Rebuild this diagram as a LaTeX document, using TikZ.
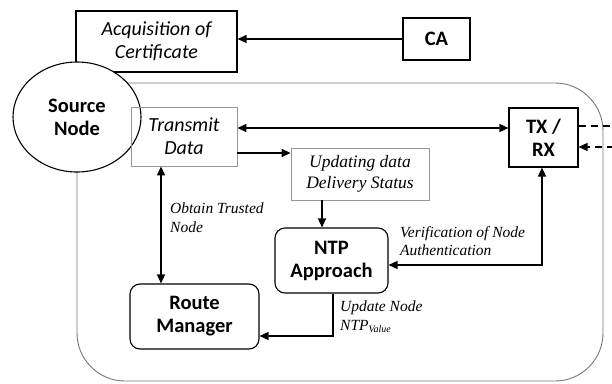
\documentclass[tikz,border=0pt]{standalone}
\usepackage{fontspec}
\setmainfont{Liberation Serif}
\newfontfamily\calibri{Carlito}
\usetikzlibrary{positioning,arrows.meta,shapes.geometric,calc}
\definecolor{framegray}{RGB}{120,120,120}
\definecolor{boxgray}{RGB}{150,150,150}

\begin{document}
\begin{tikzpicture}[
    x=1pt, y=-1pt,
    >={Stealth[length=9pt,width=8pt,inset=0pt]},
    blackbox/.style={rectangle, draw, line width=1.1pt, inner sep=0pt, align=center},
    graybox/.style={rectangle, draw=boxgray, line width=0.9pt, inner sep=0pt, align=center},
    roundbox/.style={blackbox, rounded corners=10pt},
    boldsans/.style={font=\calibri\bfseries\fontsize{20.5}{23}\selectfont},
    itsans/.style={font=\calibri\itshape\fontsize{20}{23}\selectfont},
    itserif/.style={font=\itshape\fontsize{17.5}{21}\selectfont},
    flowlabel/.style={anchor=north west, inner sep=0pt, align=left, font=\itshape\fontsize{15.5}{18.5}\selectfont},
    link/.style={line width=1.4pt},
    farlink/.style={link, dash pattern=on 7pt off 5pt}
]
\useasboundingbox (0,0) rectangle (612,383);

% outer frame
\draw[framegray, line width=0.9pt, rounded corners=48pt] (77,83) rectangle (603,381);

\node[blackbox, itsans, minimum width=161pt, minimum height=61pt] (acq) at (156.5,41.5) {Acquisition of\\Certificate};
\node[blackbox, boldsans, minimum width=67pt, minimum height=42pt] (ca) at (436.5,39) {CA};
\node[ellipse, draw, fill=white, line width=1.1pt, inner sep=0pt, minimum width=128pt, minimum height=110pt, boldsans, align=center] (src) at (77,117) {Source\\Node};
\node[graybox, itsans, minimum width=106pt, minimum height=59pt] (trans) at (184,136.5) {Transmit\\Data};
\node[blackbox, boldsans, minimum width=69pt, minimum height=59pt] (txrx) at (543.5,137.5) {TX /\\RX};
\node[graybox, itserif, minimum width=138pt, minimum height=52pt] (upd) at (360,174) {Updating data\\Delivery Status};
\node[roundbox, boldsans, minimum width=113pt, minimum height=65pt] (ntp) at (331.5,260.5) {NTP\\Approach};
\node[roundbox, boldsans, minimum width=129pt, minimum height=65pt] (route) at (194.5,316.5) {Route\\Manager};

% free ends of the dashed links
\coordinate (outlink) at (614,126);
\coordinate (inlink) at (614,147);

\draw[->,link] (ca.west) -- (ca.west -| acq.east);
\draw[<->,link] ([yshift=8.5pt]trans.east) -- ([yshift=8.5pt]trans.east -| txrx.west);
\draw[->,link] ([yshift=-16.5pt]trans.east) -- ([yshift=-16.5pt]trans.east -| upd.west);
\draw[->,link] ([xshift=-38pt]upd.south) -- ([xshift=-9.5pt]ntp.north);
\draw[<->,link] ([xshift=-23pt]trans.south) -- ([xshift=-23pt]trans.south |- route.north);
\draw[<->,link] ([xshift=-1.5pt]txrx.south) |- ([yshift=-4.5pt]ntp.east);
\draw[->,link] ([xshift=1.5pt]ntp.south) |- ([yshift=-19.5pt]route.east);
\draw[farlink] ([yshift=11.5pt]txrx.east) -- (outlink);
\draw[->,farlink] (inlink) -- (inlink -| txrx.east);

\node[flowlabel] (trustlbl) at (170,203) {Obtain Trusted\\Node};
\node[flowlabel] (verilbl) at (400,226) {Verification of Node\\Authentication};
\node[flowlabel] (updlbl) at (340,301) {Update Node\\NTP\textsubscript{\fontsize{10}{12}\selectfont Value}};
\end{tikzpicture}
\end{document}
